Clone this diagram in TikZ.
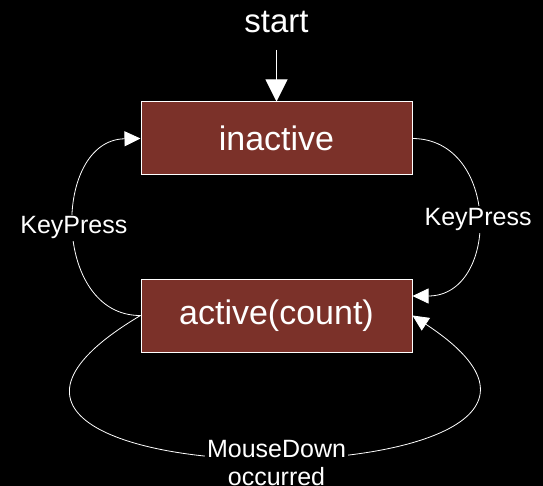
\documentclass[tikz,border=0pt]{standalone}
\usepackage{fontspec}
\setmainfont{Liberation Sans}
\usetikzlibrary{arrows.meta}
\definecolor{boxred}{HTML}{7B3129}
\begin{document}
\begin{tikzpicture}[x=1pt,y=-1pt,
  state/.style={draw=white, line width=1pt, fill=boxred, minimum width=271pt, minimum height=73pt, font=\fontsize{34}{38}\selectfont, text=white, inner sep=0pt},
  edge/.style={draw=white, line width=0.8pt, -{Triangle[length=16pt,width=15pt]}},
  lbl/.style={fill=black, text=white, font=\fontsize{25}{28}\selectfont, inner sep=2pt}]
\path[use as bounding box, fill=black] (0,0) rectangle (543,486);
\node[state] (inactive) at (276.5,138.5) {inactive};
\node[state] (active) at (276.5,315.5) {active(count)};
\node[anchor=base, text=white, font=\fontsize{33}{38}\selectfont] (start) at (276.5,33) {start};
\draw[draw=white, line width=1pt, -{Triangle[length=22pt,width=22pt]}, shorten <=13pt] (start.south) -- (inactive.north);
\draw[edge] (active.west) .. controls (51.7,316) and (51.7,140) .. (inactive.west) node[midway, lbl] {KeyPress};
\draw[edge] (inactive.east) .. controls (500,139) and (500,296) .. ([yshift=19.5pt]active.east) node[midway, lbl, yshift=-2pt] {KeyPress};
\draw[edge] (active.west) .. controls (-180,506) and (703,506) .. (active.east) node[pos=0.513, lbl, align=center, yshift=-5pt] {MouseDown\\occurred};
\end{tikzpicture}
\end{document}
